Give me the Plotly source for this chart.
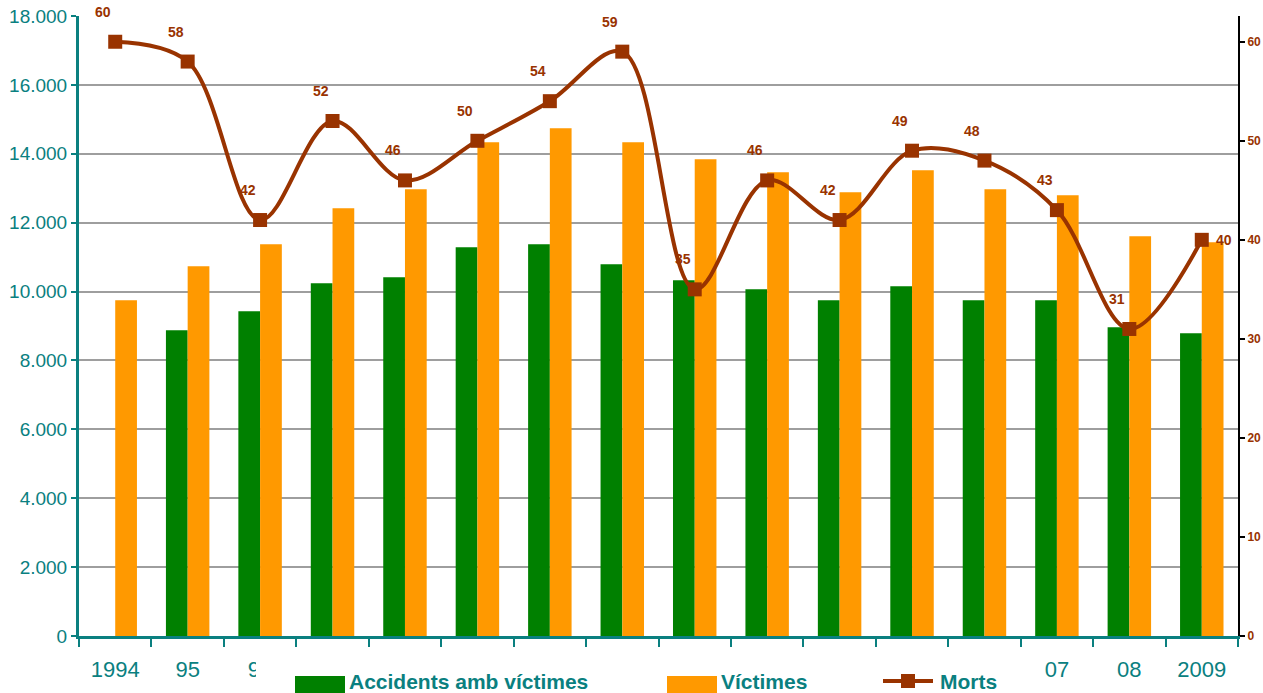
import plotly.graph_objects as go

# ---------------- data ----------------
years = ["1994", "95", "96", "97", "98", "99", "2000", "01", "02", "03",
         "04", "05", "06", "07", "08", "2009"]
accidents = [None, 8880, 9430, 10240, 10415, 11285, 11375, 10790, 10330,
             10065, 9750, 10155, 9750, 9750, 8965, 8790]
victimes = [9750, 10735, 11375, 12420, 12970, 14335, 14740, 14335, 13840,
            13465, 12885, 13520, 12970, 12795, 11605, 11430]
morts = [60, 58, 42, 52, 46, 50, 54, 59, 35, 46, 42, 49, 48, 43, 31, 40]
series_names = ["Accidents amb víctimes", "Víctimes", "Morts"]

# ---------------- style ----------------
GREEN = "#008000"
ORANGE = "#FF9900"
BROWN = "#993300"
TEAL = "#0A8080"
GRID = "#9E9E9E"
ARIAL = "Liberation Sans, Arial, sans-serif"

W, H = 1263, 693
PL, PR, PT, PB = 79, 1238, 16, 636   # plot area in pixels


def px(X):
    return (X - PL) / (PR - PL)


def py(Y):
    return (PB - Y) / (PB - PT)


fig = go.Figure()
fig.add_trace(go.Bar(x=years, y=accidents, name=series_names[0],
                     marker=dict(color=GREEN, line=dict(width=0)),
                     showlegend=False))
fig.add_trace(go.Bar(x=years, y=victimes, name=series_names[1],
                     marker=dict(color=ORANGE, line=dict(width=0)),
                     showlegend=False))
fig.add_trace(go.Scatter(x=years, y=morts, name=series_names[2], yaxis="y2",
                         mode="lines+markers",
                         line=dict(color=BROWN, width=4, shape="spline",
                                   smoothing=1.0),
                         marker=dict(symbol="square", size=14, color=BROWN),
                         showlegend=False))

# data labels for Morts (x given as category index)
annotations = []
for i, v in enumerate(morts):
    last = i == len(morts) - 1
    annotations.append(dict(
        x=i, y=v, xref="x", yref="y2", text=str(v), showarrow=False,
        xshift=22 if last else -12, yshift=0 if last else 30,
        font=dict(family=ARIAL, size=14, color=BROWN, weight="bold")))

# manual legend (white box covering middle tick labels)
shapes = [
    dict(type="rect", xref="paper", yref="paper", layer="above",
         x0=px(256), x1=px(1035), y0=py(650), y1=py(705),
         fillcolor="white", line=dict(width=0)),
    dict(type="rect", xref="paper", yref="paper", layer="above",
         x0=px(295), x1=px(345), y0=py(676), y1=py(696),
         fillcolor=GREEN, line=dict(width=0)),
    dict(type="rect", xref="paper", yref="paper", layer="above",
         x0=px(667), x1=px(717), y0=py(676), y1=py(696),
         fillcolor=ORANGE, line=dict(width=0)),
    dict(type="line", xref="paper", yref="paper", layer="above",
         x0=px(883), x1=px(933), y0=py(681), y1=py(681),
         line=dict(color=BROWN, width=4)),
    dict(type="rect", xref="paper", yref="paper", layer="above",
         x0=px(901), x1=px(915), y0=py(674), y1=py(688),
         fillcolor=BROWN, line=dict(width=0)),
]
for name, X in zip(series_names, [347, 719, 938]):
    annotations.append(dict(
        x=px(X), y=py(681), xref="paper", yref="paper", text=name,
        showarrow=False, xanchor="left", yanchor="middle",
        font=dict(family=ARIAL, size=21, color=TEAL, weight="bold")))

fig.update_layout(
    width=W, height=H,
    margin=dict(l=PL, r=W - PR, t=PT, b=H - PB, pad=0),
    paper_bgcolor="white", plot_bgcolor="white",
    separators=",.",
    barmode="group", bargap=0.4, bargroupgap=0,
    showlegend=False,
    xaxis=dict(type="category", categoryorder="array", categoryarray=years,
               range=[-0.5, len(years) - 0.5], autorange=False,
               automargin=False,
               showline=True, linecolor=TEAL, linewidth=3,
               ticks="outside", tickson="boundaries", ticklen=8,
               tickwidth=2, tickcolor=TEAL, showgrid=False,
               ticklabelstandoff=12, tickangle=0,
               tickfont=dict(family=ARIAL, size=22, color=TEAL)),
    yaxis=dict(range=[0, 18000], dtick=2000, tickformat=",d",
               automargin=False, ticklabeloverflow="allow",
               showline=True, linecolor=TEAL, linewidth=3,
               ticks="outside", ticklen=5, tickwidth=2, tickcolor=TEAL,
               showgrid=True, gridcolor=GRID, gridwidth=2,
               zeroline=False,
               tickfont=dict(family=ARIAL, size=19, color=TEAL)),
    yaxis2=dict(range=[0, 62.6], dtick=10, overlaying="y", side="right",
                automargin=False, ticklabeloverflow="allow",
                showline=True, linecolor="black", linewidth=2,
                ticks="outside", ticklen=5, tickwidth=2, tickcolor="black",
                showgrid=False, zeroline=False,
                tickfont=dict(family=ARIAL, size=12, color=BROWN,
                              weight="bold")),
    shapes=shapes,
    annotations=annotations,
)

# remove the default page margin so the figure fills the window exactly
PAGE_JS = ("document.body.style.margin='0';"
           "document.body.style.overflow='hidden';")

fig.write_html("out.html", post_script=PAGE_JS,
               config={"displayModeBar": False})
